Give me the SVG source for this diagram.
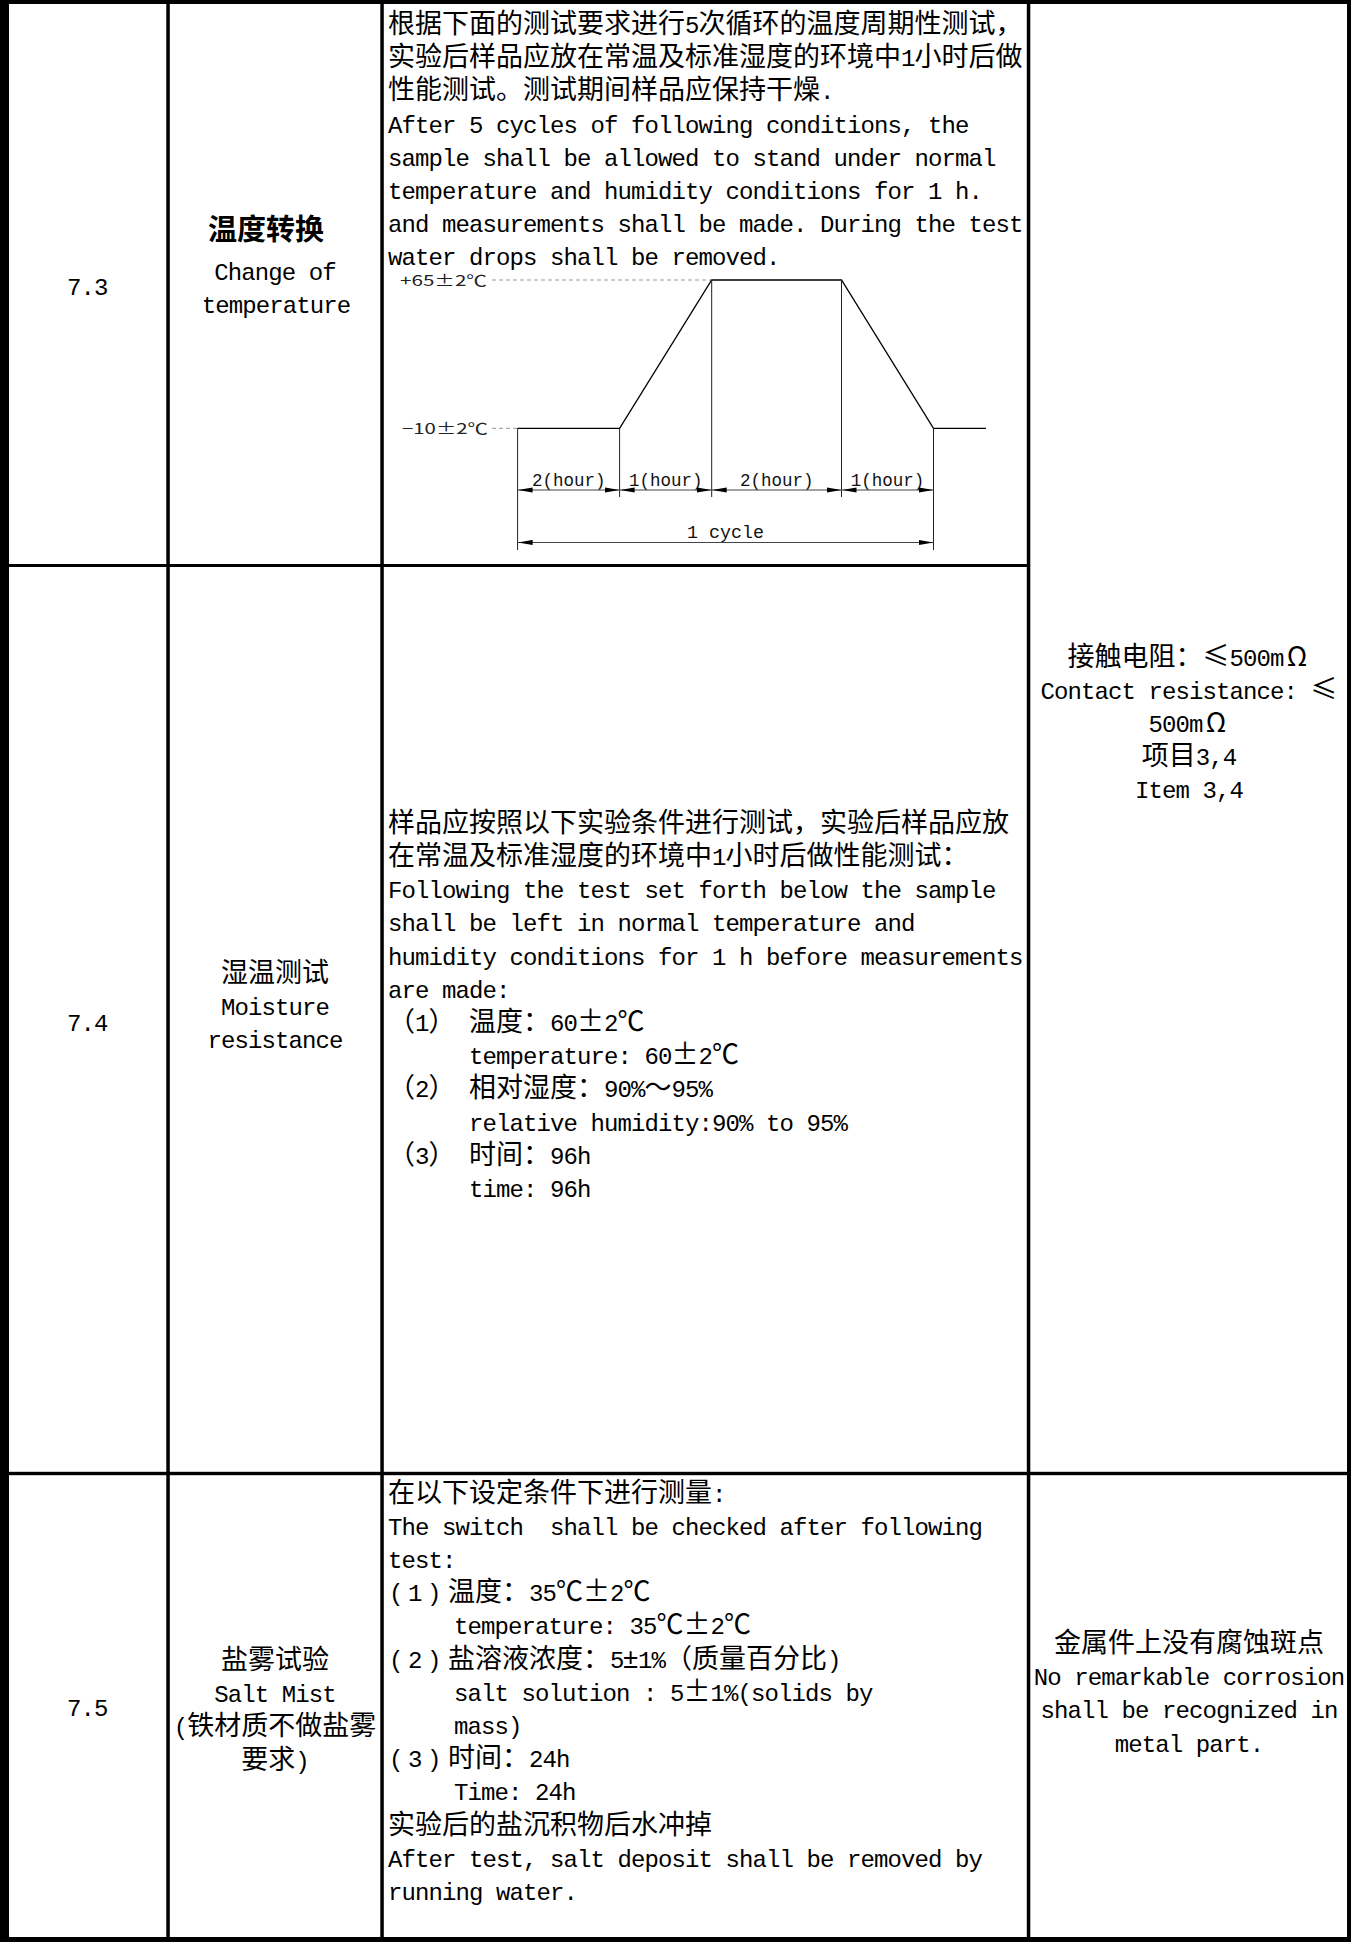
<svg xmlns="http://www.w3.org/2000/svg" width="1351" height="1942" viewBox="0 0 1351 1942">
<style>
text{font-family:"Liberation Mono","DejaVu Sans Mono",monospace;font-size:24px;letter-spacing:-0.9px;fill:#000;white-space:pre}
.c{font-family:"Noto Sans CJK SC","Noto Sans CJK JP",sans-serif;font-size:27px;letter-spacing:0}
.cb{font-family:"Noto Sans CJK SC","Noto Sans CJK JP",sans-serif;font-size:29px;font-weight:bold;letter-spacing:0}
.pm{font-size:27px;letter-spacing:0}
.m{text-anchor:middle}
.s{font-size:19px;letter-spacing:0;fill:#111}
.sc{font-family:"Noto Sans CJK SC",sans-serif;font-size:15px;letter-spacing:0;fill:#222}
.g rect{fill:#000}
.curve{fill:none;stroke:#000;stroke-width:1.3}
.vl{stroke:#222;stroke-width:1}
.dash{stroke:#999;stroke-width:1;stroke-dasharray:4 3}
.dim{stroke:#444;stroke-width:1;marker-start:url(#ar);marker-end:url(#ar)}
</style>
<defs>
<marker id="ar" viewBox="0 0 15 6" refX="15" refY="3" markerWidth="15" markerHeight="6" markerUnits="userSpaceOnUse" orient="auto-start-reverse"><path d="M0,0.4 L15,3 L0,5.6 z" fill="#000"/></marker>
</defs>
<rect x="0" y="0" width="1351" height="1942" fill="#fff"/>
<g id="grid" class="g">
<rect x="0" y="0" width="1351" height="4"/>
<rect x="0" y="1937" width="1351" height="5"/>
<rect x="0" y="0" width="9" height="1942"/>
<rect x="1347" y="0" width="4" height="1942"/>
<rect x="166.3" y="0" width="3.5" height="1942"/>
<rect x="380.3" y="0" width="3.5" height="1942"/>
<rect x="1026.8" y="0" width="3.5" height="1942"/>
<rect x="0" y="564" width="1030" height="3"/>
<rect x="0" y="1471.8" width="1351" height="3.4"/>
</g>

<g id="cell-7-3-no"><text x="67" y="295">7.3</text></g>
<g id="cell-7-3-name">
<text class="cb" x="208" y="240">温度转换</text>
<text x="214.25" y="279.5">Change of</text>
<text x="201.75" y="312.5">temperature</text>
</g>
<g id="cell-7-3-desc">
<text y="33.2"><tspan class="c" x="388">根据下面的测试要求进行</tspan><tspan x="685">5</tspan><tspan class="c" x="698.5">次循环的温度周期性测试，</tspan></text>
<text y="66.3"><tspan class="c" x="388">实验后样品应放在常温及标准湿度的环境中</tspan><tspan x="901">1</tspan><tspan class="c" x="914.5">小时后做</tspan></text>
<text y="99.4"><tspan class="c" x="388">性能测试。测试期间样品应保持干燥</tspan><tspan x="820">.</tspan></text>
<text x="388" y="132.5">After 5 cycles of following conditions, the</text>
<text x="388" y="165.6">sample shall be allowed to stand under normal</text>
<text x="388" y="198.7">temperature and humidity conditions for 1 h.</text>
<text x="388" y="231.8">and measurements shall be made. During the test</text>
<text x="388" y="264.9">water drops shall be removed.</text>
</g>
<g id="chart-7-3">
<text class="sc" x="400" y="285.5" textLength="87" lengthAdjust="spacingAndGlyphs">+65±2℃</text>
<text class="sc" x="402" y="433.5" textLength="86" lengthAdjust="spacingAndGlyphs">−10±2℃</text>
<line class="dash" x1="492" y1="280" x2="711" y2="280"/>
<line class="dash" x1="492" y1="428.3" x2="517" y2="428.3"/>
<path class="curve" d="M517.6,428.3 L619.6,428.3 L711.7,280 L841.5,280 L933.5,428.3 L986,428.3"/>
<line class="vl" x1="517.6" y1="428.3" x2="517.6" y2="550"/>
<line class="vl" x1="619.6" y1="428.3" x2="619.6" y2="497"/>
<line class="vl" x1="711.7" y1="280" x2="711.7" y2="497"/>
<line class="vl" x1="841.5" y1="280" x2="841.5" y2="497"/>
<line class="vl" x1="933.5" y1="428.3" x2="933.5" y2="550"/>
<text class="s" x="531.9" y="486" textLength="73.5" lengthAdjust="spacingAndGlyphs">2(hour)</text>
<text class="s" x="628.9" y="486" textLength="73.5" lengthAdjust="spacingAndGlyphs">1(hour)</text>
<text class="s" x="739.9" y="486" textLength="73.5" lengthAdjust="spacingAndGlyphs">2(hour)</text>
<text class="s" x="850.8" y="486" textLength="73.5" lengthAdjust="spacingAndGlyphs">1(hour)</text>
<text class="s" x="687" y="538" textLength="77" lengthAdjust="spacingAndGlyphs">1 cycle</text>
</g>
<g id="connectors">
<line class="dim" x1="517.6" y1="490" x2="619.6" y2="490"/>
<line class="dim" x1="619.6" y1="490" x2="711.7" y2="490"/>
<line class="dim" x1="711.7" y1="490" x2="841.5" y2="490"/>
<line class="dim" x1="841.5" y1="490" x2="933.5" y2="490"/>
<line class="dim" x1="517.6" y1="542.5" x2="933.5" y2="542.5"/>
</g>

<g id="cell-7-4-no"><text x="67" y="1031">7.4</text></g>
<g id="cell-7-4-name">
<text class="c" x="221" y="981.5">湿温测试</text>
<text x="221" y="1014.7">Moisture</text>
<text x="207.5" y="1047.9">resistance</text>
</g>
<g id="cell-7-4-desc">
<text class="c" x="388" y="831.8">样品应按照以下实验条件进行测试，实验后样品应放</text>
<text y="865"><tspan class="c" x="388">在常温及标准湿度的环境中</tspan><tspan x="712">1</tspan><tspan class="c" x="725.5">小时后做性能测试：</tspan></text>
<text x="388" y="898.2">Following the test set forth below the sample</text>
<text x="388" y="931.4">shall be left in normal temperature and</text>
<text x="388" y="964.6">humidity conditions for 1 h before measurements</text>
<text x="388" y="997.8">are made:</text>
<text y="1031"><tspan class="c" x="388">（</tspan><tspan x="415">1</tspan><tspan class="c" x="428.5">）</tspan><tspan class="c" x="469">温度：</tspan><tspan x="550">60</tspan><tspan class="c" x="577">±</tspan><tspan x="604">2</tspan><tspan class="c" x="617.5">℃</tspan></text>
<text y="1064.2"><tspan x="469">temperature: 60</tspan><tspan class="c" x="671.5">±</tspan><tspan x="698.5">2</tspan><tspan class="c" x="712">℃</tspan></text>
<text y="1097.4"><tspan class="c" x="388">（</tspan><tspan x="415">2</tspan><tspan class="c" x="428.5">）</tspan><tspan class="c" x="469">相对湿度：</tspan><tspan x="604">90%</tspan><tspan class="c" x="644.5">～</tspan><tspan x="671.5">95%</tspan></text>
<text x="469" y="1130.6">relative humidity:90% to 95%</text>
<text y="1163.8"><tspan class="c" x="388">（</tspan><tspan x="415">3</tspan><tspan class="c" x="428.5">）</tspan><tspan class="c" x="469">时间：</tspan><tspan x="550">96h</tspan></text>
<text x="469" y="1197">time: 96h</text>
</g>
<g id="cell-req-contact">
<text y="665.5"><tspan class="c" x="1067.5">接触电阻：</tspan><tspan class="c" x="1202.5">≤</tspan><tspan x="1229.5">500m</tspan></text>
<text class="c m" x="1297" y="665.5">Ω</text>
<text y="698.7"><tspan x="1040.5">Contact resistance: </tspan><tspan class="c" x="1310.5">≤</tspan></text>
<text x="1148.5" y="731.9">500m</text>
<text class="c m" x="1216" y="731.9">Ω</text>
<text y="765.1"><tspan class="c" x="1141.75">项目</tspan><tspan x="1195.75">3,4</tspan></text>
<text x="1135" y="798.3">Item 3,4</text>
</g>

<g id="cell-7-5-no"><text x="67" y="1716">7.5</text></g>
<g id="cell-7-5-name">
<text class="c" x="221" y="1669">盐雾试验</text>
<text x="214.25" y="1702.2">Salt Mist</text>
<text y="1735.4"><tspan x="173.75">(</tspan><tspan class="c" x="187.25">铁材质不做盐雾</tspan></text>
<text y="1768.6"><tspan class="c" x="241.25">要求</tspan><tspan x="295.25">)</tspan></text>
</g>
<g id="cell-7-5-desc">
<text y="1501.5"><tspan class="c" x="388">在以下设定条件下进行测量</tspan><tspan x="712">:</tspan></text>
<text x="388" y="1534.7">The switch  shall be checked after following</text>
<text x="388" y="1567.9">test:</text>
<text y="1601.1"><tspan x="389">(</tspan><tspan x="408">1</tspan><tspan x="427">)</tspan><tspan class="c" x="448">温度：</tspan><tspan x="529">35</tspan><tspan class="c" x="556">℃±</tspan><tspan x="610">2</tspan><tspan class="c" x="623.5">℃</tspan></text>
<text y="1634.3"><tspan x="454">temperature: 35</tspan><tspan class="c" x="656.5">℃±</tspan><tspan x="710.5">2</tspan><tspan class="c" x="724">℃</tspan></text>
<text y="1667.5"><tspan x="389">(</tspan><tspan x="408">2</tspan><tspan x="427">)</tspan><tspan class="c" x="448">盐溶液浓度：</tspan><tspan x="610">5</tspan><tspan class="pm" x="622.5">±</tspan><tspan x="638">1%</tspan><tspan class="c" x="665">（质量百分比</tspan><tspan x="827">)</tspan></text>
<text y="1700.7"><tspan x="454">salt solution : 5</tspan><tspan class="c" x="683.5">±</tspan><tspan x="710.5">1%(solids by</tspan></text>
<text x="454" y="1733.9">mass)</text>
<text y="1767.1"><tspan x="389">(</tspan><tspan x="408">3</tspan><tspan x="427">)</tspan><tspan class="c" x="448">时间：</tspan><tspan x="529">24h</tspan></text>
<text x="454" y="1800.3">Time: 24h</text>
<text class="c" x="388" y="1833.5">实验后的盐沉积物后水冲掉</text>
<text x="388" y="1866.7">After test, salt deposit shall be removed by</text>
<text x="388" y="1899.9">running water.</text>
</g>
<g id="cell-req-salt">
<text class="c" x="1054" y="1652">金属件上没有腐蚀斑点</text>
<text x="1033.75" y="1685.2">No remarkable corrosion</text>
<text x="1040.5" y="1718.4">shall be recognized in</text>
<text x="1114.75" y="1751.6">metal part.</text>
</g>
</svg>
